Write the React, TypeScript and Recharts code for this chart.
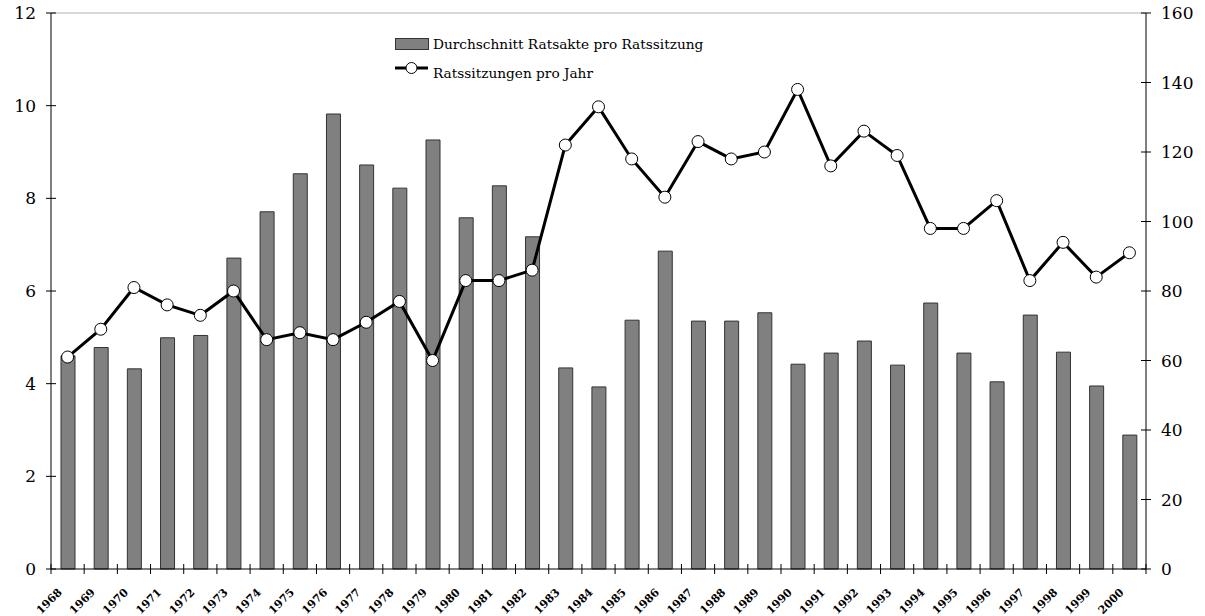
import { Bar, ComposedChart, Line, ReferenceLine, XAxis, YAxis } from "recharts";

const years = [
  "1968", "1969", "1970", "1971", "1972", "1973", "1974", "1975", "1976", "1977", "1978",
  "1979", "1980", "1981", "1982", "1983", "1984", "1985", "1986", "1987", "1988", "1989",
  "1990", "1991", "1992", "1993", "1994", "1995", "1996", "1997", "1998", "1999", "2000",
];

// Durchschnitt Ratsakte pro Ratssitzung (left axis)
const avgActs = [
  4.6, 4.78, 4.32, 4.99, 5.04, 6.71, 7.71, 8.53, 9.82, 8.72, 8.22,
  9.26, 7.58, 8.27, 7.17, 4.34, 3.93, 5.37, 6.86, 5.35, 5.35, 5.53,
  4.42, 4.66, 4.92, 4.4, 5.74, 4.66, 4.04, 5.48, 4.68, 3.95, 2.89,
];

// Ratssitzungen pro Jahr (right axis)
const sessions = [
  61, 69, 81, 76, 73, 80, 66, 68, 66, 71, 77,
  60, 83, 83, 86, 122, 133, 118, 107, 123, 118, 120,
  138, 116, 126, 119, 98, 98, 106, 83, 94, 84, 91,
];

const leftTicks = [0, 2, 4, 6, 8, 10, 12];
const rightTicks = [0, 20, 40, 60, 80, 100, 120, 140, 160];

const data = years.map((year, i) => ({
  year,
  avg: avgActs[i],
  sessions: sessions[i],
}));

const FONT = "'DejaVu Serif', serif";
const TICK_SIZE = 5;
const TICK_MARGIN = 6;

const LeftTick = (props: any) => {
  const { x, y, payload } = props;
  const axisX = x + TICK_MARGIN + TICK_SIZE;
  return (
    <g>
      <line x1={axisX - 5} x2={axisX + 5} y1={y} y2={y} stroke="#000" />
      <text x={x - 4} y={y} dy={6} textAnchor="end" fontSize={17} fontFamily={FONT} fill="#000">
        {payload.value}
      </text>
    </g>
  );
};

const RightTick = (props: any) => {
  const { x, y, payload } = props;
  const axisX = x - TICK_MARGIN - TICK_SIZE;
  return (
    <g>
      <line x1={axisX - 5} x2={axisX + 5} y1={y} y2={y} stroke="#000" />
      <text x={x + 4} y={y} dy={6} textAnchor="start" fontSize={17} fontFamily={FONT} fill="#000">
        {payload.value}
      </text>
    </g>
  );
};

// year labels sit under each bar, tick marks on the category boundaries
const renderYearTick = (props: any) => {
  const { x, y, payload, index } = props;
  const half = payload.offset ?? 16.6;
  const axisY = y - TICK_SIZE;
  const left = payload.coordinate - half;
  const right = payload.coordinate + half;
  const ax = x - 5;
  const ay = axisY + 24;
  return (
    <g key={`yt-${index}`}>
      <line x1={left} x2={left} y1={axisY - 5} y2={axisY + 5} stroke="#000" />
      {index === years.length - 1 && (
        <line x1={right} x2={right} y1={axisY - 5} y2={axisY + 5} stroke="#000" />
      )}
      <g transform={`translate(${ax}, ${ay}) rotate(-45)`}>
        <text x={0} y={0} textAnchor="end" fontSize={11} fontWeight="bold" fontFamily={FONT} fill="#000">
          {payload.value}
        </text>
      </g>
    </g>
  );
};

const ChartLegend = () => (
  <svg
    width={340}
    height={50}
    style={{ position: "absolute", left: 395, top: 35, fontFamily: FONT }}
  >
    <rect x={0.5} y={3.5} width={33} height={11} fill="#808080" stroke="#333" />
    <text x={38} y={14} fontSize={13.7} fill="#000">
      Durchschnitt Ratsakte pro Ratssitzung
    </text>
    <line x1={0} x2={33} y1={33} y2={33} stroke="#000" strokeWidth={3} />
    <circle cx={16.5} cy={33} r={5.5} fill="#fff" stroke="#000" strokeWidth={1} />
    <text x={38} y={43} fontSize={13.7} fill="#000">
      Ratssitzungen pro Jahr
    </text>
  </svg>
);

export default function App() {
  return (
    <div style={{ position: "absolute", left: 0, top: 0, width: 1205, height: 616, background: "#fff" }}>
      <ComposedChart
        width={1205}
        height={616}
        data={data}
        margin={{ top: 13, right: 0, bottom: 0, left: 0 }}
      >
        <XAxis
          dataKey="year"
          height={47}
          axisLine={{ stroke: "#000" }}
          tickLine={false}
          tickSize={TICK_SIZE}
          tickMargin={0}
          interval={0}
          tick={renderYearTick}
        />
        <YAxis
          yAxisId="left"
          orientation="left"
          width={51}
          domain={[0, 12]}
          ticks={leftTicks}
          axisLine={{ stroke: "#000" }}
          tickLine={false}
          tickSize={TICK_SIZE}
          tickMargin={TICK_MARGIN}
          tick={<LeftTick />}
        />
        <YAxis
          yAxisId="right"
          orientation="right"
          width={59}
          domain={[0, 160]}
          ticks={rightTicks}
          axisLine={{ stroke: "#000" }}
          tickLine={false}
          tickSize={TICK_SIZE}
          tickMargin={TICK_MARGIN}
          tick={<RightTick />}
        />
        <ReferenceLine yAxisId="left" y={12} stroke="#b0b0b0" />
        <Bar
          yAxisId="left"
          dataKey="avg"
          barSize={14}
          fill="#808080"
          stroke="#333"
          strokeWidth={1}
          isAnimationActive={false}
        />
        <Line
          yAxisId="right"
          dataKey="sessions"
          stroke="#000"
          strokeWidth={3}
          dot={{ r: 6, fill: "#fff", stroke: "#000", strokeWidth: 1 }}
          isAnimationActive={false}
        />
      </ComposedChart>
      <ChartLegend />
    </div>
  );
}
